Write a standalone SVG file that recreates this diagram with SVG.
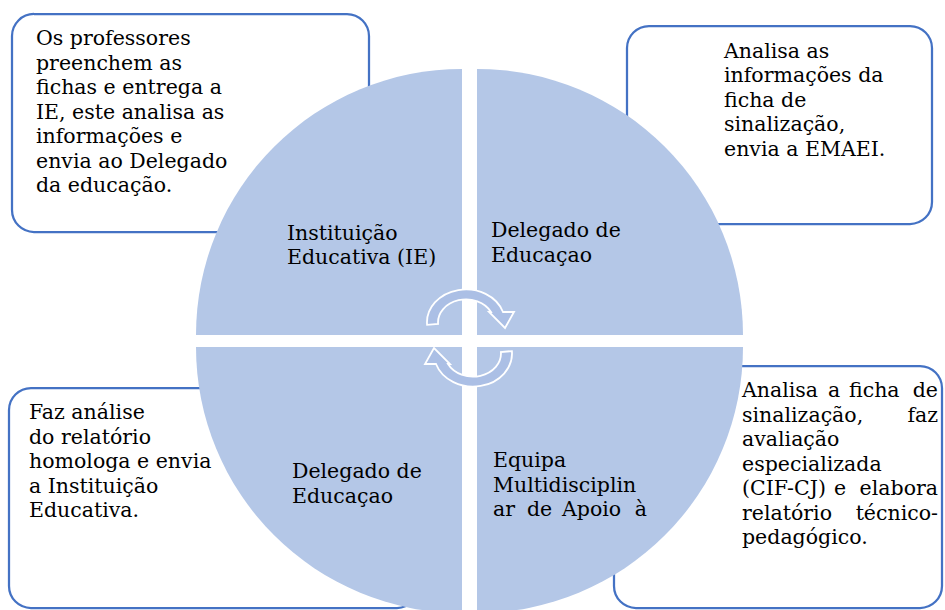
<svg xmlns="http://www.w3.org/2000/svg" width="945" height="610" viewBox="0 0 945 610">
<style>
.box{fill:#ffffff;stroke:#4472C4;stroke-width:2.25}
.q{fill:#B4C7E7}
.t{font-family:"DejaVu Serif","Liberation Serif",serif;font-size:20.5px;fill:#000000}
.e{text-anchor:end}
.arr{fill:#ABBFE5;stroke:#ffffff;stroke-width:1.8;stroke-linejoin:miter}
</style>
<rect width="945" height="610" fill="#ffffff"/>
<g id="box-ie">
<rect class="box" x="12" y="14" width="357" height="218" rx="22"/>
<text class="t" x="36"><tspan x="36" y="45">Os professores</tspan><tspan x="36" y="69.5">preenchem as</tspan><tspan x="36" y="94">fichas e entrega a</tspan><tspan x="36" y="118.5">IE, este analisa as</tspan><tspan x="36" y="143">informações e</tspan><tspan x="36" y="167.5">envia ao Delegado</tspan><tspan x="36" y="192">da educação.</tspan></text>
</g>
<g id="box-delegado-top">
<rect class="box" x="627" y="26" width="305" height="198" rx="22"/>
<text class="t"><tspan x="724" y="57.5">Analisa as</tspan><tspan x="724" y="82">informações da</tspan><tspan x="724" y="106.5">ficha de</tspan><tspan x="724" y="131">sinalização,</tspan><tspan x="724" y="155.5">envia a EMAEI.</tspan></text>
</g>
<g id="box-delegado-bottom">
<rect class="box" x="9" y="388" width="410" height="220" rx="22"/>
<text class="t"><tspan x="29" y="419">Faz análise</tspan><tspan x="29" y="443.5">do relatório</tspan><tspan x="29" y="468">homologa e envia</tspan><tspan x="29" y="492.5">a Instituição</tspan><tspan x="29" y="517">Educativa.</tspan></text>
</g>
<g id="box-emaei">
<rect class="box" x="614" y="366" width="328" height="242" rx="22"/>
<text class="t"><tspan x="742" y="397">Analisa</tspan><tspan x="828" y="397">a</tspan><tspan x="849" y="397">ficha</tspan></text>
<text class="t e" x="938" y="397">de</text>
<text class="t"><tspan x="742" y="421.5">sinalização,</tspan></text>
<text class="t e" x="938" y="421.5">faz</text>
<text class="t"><tspan x="742" y="446">avaliação</tspan><tspan x="742" y="470.5">especializada</tspan></text>
<text class="t"><tspan x="742" y="495">(CIF-CJ)</tspan><tspan x="834" y="495">e</tspan></text>
<text class="t e" x="938" y="495">elabora</text>
<text class="t" x="742" y="519.5">relatório</text>
<text class="t e" x="938" y="519.5">técnico-</text>
<text class="t" x="742" y="544">pedagógico.</text>
</g>
<g id="quadrant-ie">
<path class="q" d="M462 335 L196 335 A266 266 0 0 1 462 69 Z"/>
<text class="t"><tspan x="287" y="240">Instituição</tspan><tspan x="287" y="264">Educativa (IE)</tspan></text>
</g>
<g id="quadrant-delegado-top">
<path class="q" d="M477 335 L477 69 A266 266 0 0 1 743 335 Z"/>
<text class="t"><tspan x="491" y="237">Delegado de</tspan><tspan x="491" y="261.5">Educaçao</tspan></text>
</g>
<g id="quadrant-delegado-bottom">
<path class="q" d="M462 347 L462 613 A266 266 0 0 1 196 347 Z"/>
<text class="t"><tspan x="292" y="478">Delegado de</tspan><tspan x="292" y="502.5">Educaçao</tspan></text>
</g>
<g id="quadrant-emaei">
<path class="q" d="M477 347 L743 347 A266 266 0 0 1 477 613 Z"/>
<text class="t"><tspan x="493" y="467">Equipa</tspan><tspan x="493" y="491.5">Multidisciplin</tspan></text>
<text class="t"><tspan x="493" y="516">ar</tspan><tspan x="527" y="516">de</tspan><tspan x="562" y="516">Apoio</tspan></text>
<text class="t e" x="647" y="516">à</text>
</g>
<g id="connectors">
<path id="arrow-top" class="arr" d="M427.1 324.9 A39 33 0 0 1 503 312 L514 312 L505 328 L489 312 L491 312 A28 23 0 0 0 438.1 324 Z"/>
<path id="arrow-bottom" class="arr" d="M427.1 324.9 A39 33 0 0 1 503 312 L514 312 L505 328 L489 312 L491 312 A28 23 0 0 0 438.1 324 Z" transform="rotate(180 469.5 338)"/>
</g>
</svg>
